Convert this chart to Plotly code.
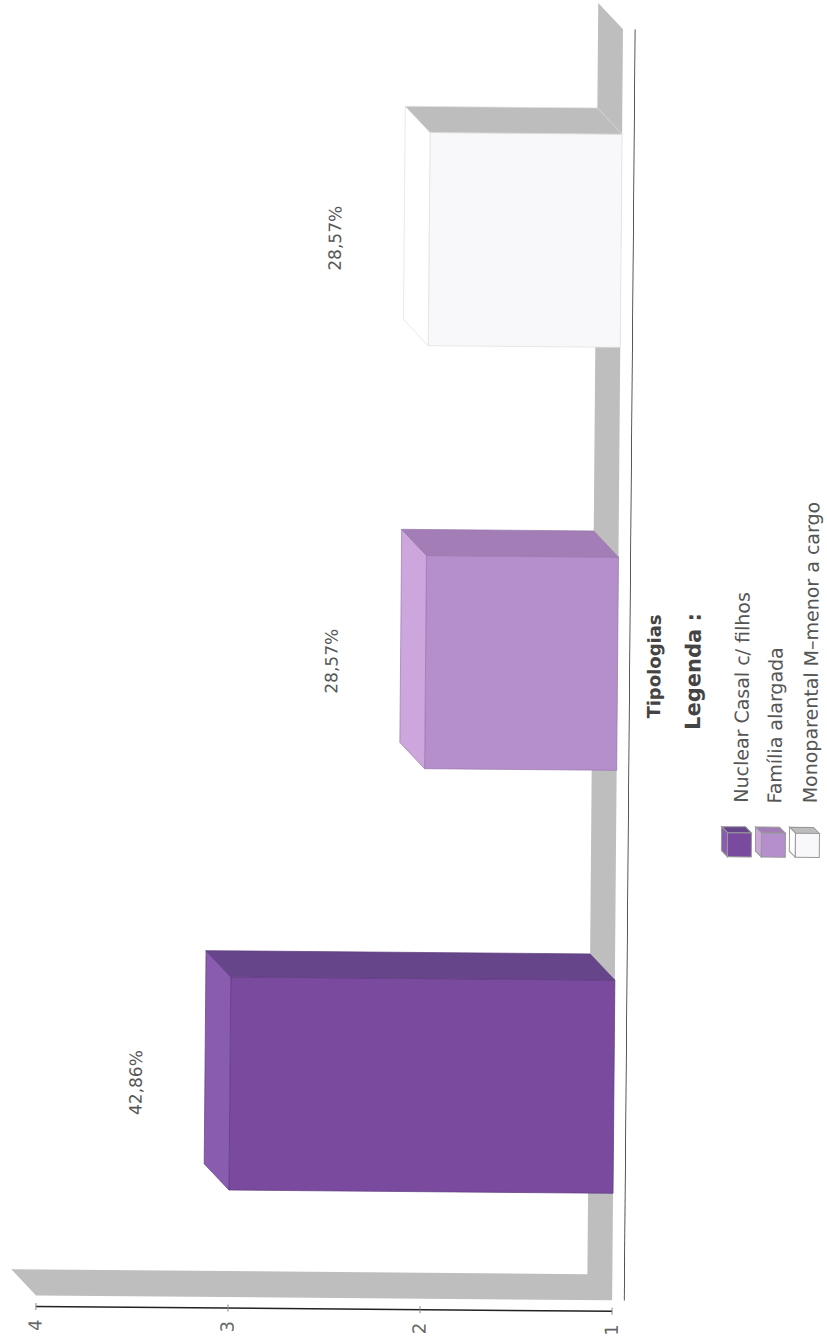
import plotly.graph_objects as go

categories = ["Nuclear Casal c/ filhos", "Família alargada", "Monoparental M–menor a cargo"]
values = [3, 2, 2]
percent_labels = ["42,86%", "28,57%", "28,57%"]
tick_values = [1, 2, 3, 4]
front_colors = ["#7A4A9F", "#B48FCB", "#F8F8FA"]
side_colors = ["#8A5CB0", "#CDA6DE", "#FFFFFF"]
upper_colors = ["#66458A", "#A27DB6", "#BDBDBD"]
edge_colors = ["#5E3C80", "#9A78AE", "#E0E0E0"]

W, H = 827, 1340
PLOT_R, PLOT_B = 630.5, 1316
UX, UY = 192.2, 423.0
BASE_PX = 618.0
DX, DY = 25 / UX, 26 / UY
HALF = 0.252
FLOOR_LOW, FLOOR_HIGH = -0.505, 2.5
AXIS_Y = -0.531
idx = list(range(len(categories)))


def poly(pts):
    return "M " + " L ".join(f"{x},{y}" for x, y in pts) + " Z"


def px(x):
    return x / PLOT_R


def py(y):
    return (PLOT_B - y) / PLOT_B


fig = go.Figure()

# side faces
for i, v, c, u, e in zip(idx, values, side_colors, upper_colors, edge_colors):
    left = [(v, i + HALF), (v + DX, i + HALF + DY), (v + DX, i - HALF + DY), (v, i - HALF), (v, i + HALF)]
    top = [(v, i + HALF), (v + DX, i + HALF + DY), (1 + DX, i + HALF + DY), (1, i + HALF), (v, i + HALF)]
    for pts, col in ((left, c), (top, u)):
        fig.add_trace(go.Scatter(x=[p[0] for p in pts], y=[p[1] for p in pts], mode="lines",
                                 fill="toself", fillcolor=col, line=dict(color=e, width=0.7),
                                 hoverinfo="skip", showlegend=False))

# front faces
fig.add_trace(go.Bar(y=idx, x=[v - 1 for v in values], base=1, orientation="h", width=2 * HALF,
                     marker=dict(color=front_colors, line=dict(color=edge_colors, width=0.7)),
                     hoverinfo="skip", showlegend=False))

# axis lines and tick marks
fig.add_trace(go.Scatter(x=[1, 4], y=[AXIS_Y, AXIS_Y], mode="lines", line=dict(color="#222222", width=1.5),
                         cliponaxis=False, hoverinfo="skip", showlegend=False))
fig.add_trace(go.Scatter(x=tick_values, y=[AXIS_Y] * len(tick_values), mode="markers",
                         marker=dict(symbol="line-ns", size=5, line=dict(color="#888888", width=1)),
                         cliponaxis=False, hoverinfo="skip", showlegend=False))
fig.add_trace(go.Scatter(x=[1 - 12.5 / UX] * 2, y=[FLOOR_LOW, FLOOR_HIGH], mode="lines",
                         line=dict(color="#222222", width=1.5),
                         cliponaxis=False, hoverinfo="skip", showlegend=False))

shapes = [dict(type="path", xref="x", yref="y", layer="below", fillcolor="#BEBEBE", line=dict(width=0),
               path=poly([(1, FLOOR_HIGH), (1, FLOOR_LOW), (4, FLOOR_LOW), (4 + DX, FLOOR_LOW + DY),
                          (1 + DX, FLOOR_LOW + DY), (1 + DX, FLOOR_HIGH + DY)]))]

annotations = []
for i, v, t in zip(idx, values, percent_labels):
    annotations.append(dict(x=v + 0.49, y=i, xref="x", yref="y", text=t, textangle=-90, showarrow=False,
                            xanchor="center", yanchor="middle",
                            font=dict(family="DejaVu Sans", size=17, color="#555555")))

annotations.append(dict(x=px(654), y=py(664), xref="paper", yref="paper", text="<b>Tipologias</b>", textangle=-90,
                        xanchor="center", yanchor="middle", showarrow=False,
                        font=dict(family="DejaVu Sans", size=18, color="#444444")))
annotations.append(dict(x=px(694), y=py(669), xref="paper", yref="paper", text="<b>Legenda :</b>", textangle=-90,
                        xanchor="center", yanchor="middle", showarrow=False,
                        font=dict(family="DejaVu Sans", size=21, color="#444444")))

legend_x = [742, 776, 811]
legend_cube_x = [723.5, 757.5, 791.5]
for name, lx, cx, fc, sc, uc in zip(categories, legend_x, legend_cube_x, front_colors, side_colors, upper_colors):
    annotations.append(dict(x=px(lx), y=py(802), xref="paper", yref="paper", text=name, textangle=-90,
                            xanchor="center", yanchor="bottom", showarrow=False,
                            font=dict(family="DejaVu Sans", size=19, color="#555555")))
    left, top, s, d = cx, 824, 24, 6
    face_line = dict(color="#999999", width=1)
    shapes.append(dict(type="path", xref="paper", yref="paper", layer="above", fillcolor=uc, line=face_line,
                       path=poly([(px(left), py(top)), (px(left + s), py(top)), (px(left + s + d), py(top + d)), (px(left + d), py(top + d))])))
    shapes.append(dict(type="path", xref="paper", yref="paper", layer="above", fillcolor=sc, line=face_line,
                       path=poly([(px(left), py(top)), (px(left + d), py(top + d)), (px(left + d), py(top + d + s)), (px(left), py(top + s))])))
    shapes.append(dict(type="path", xref="paper", yref="paper", layer="above", fillcolor=fc, line=face_line,
                       path=poly([(px(left + d), py(top + d)), (px(left + d + s), py(top + d)), (px(left + d + s), py(top + d + s)), (px(left + d), py(top + d + s))])))

fig.update_layout(
    width=W, height=H, margin=dict(l=0, r=W - PLOT_R, t=0, b=H - PLOT_B),
    paper_bgcolor="white", plot_bgcolor="white", showlegend=False,
    shapes=shapes, annotations=annotations,
    xaxis=dict(range=[1 + BASE_PX / UX, 1 - 12.5 / UX], tickvals=tick_values, tickangle=-90, showgrid=False,
               zeroline=False, showline=False, ticks="", ticklabelstandoff=2,
               tickfont=dict(family="DejaVu Sans", size=18, color="#666666")),
    yaxis=dict(range=[(1085 - PLOT_B) / UY, 1085 / UY], showticklabels=False, showgrid=False,
               zeroline=False, showline=False, ticks=""),
)

fig.write_html("out.html", post_script=(
    "document.body.style.margin='0';document.body.style.overflow='hidden';"
    "var g=document.getElementById('{plot_id}');g.style.transformOrigin='413.5px 670px';"
    "g.style.transform='rotate(0.49deg)';"
))
